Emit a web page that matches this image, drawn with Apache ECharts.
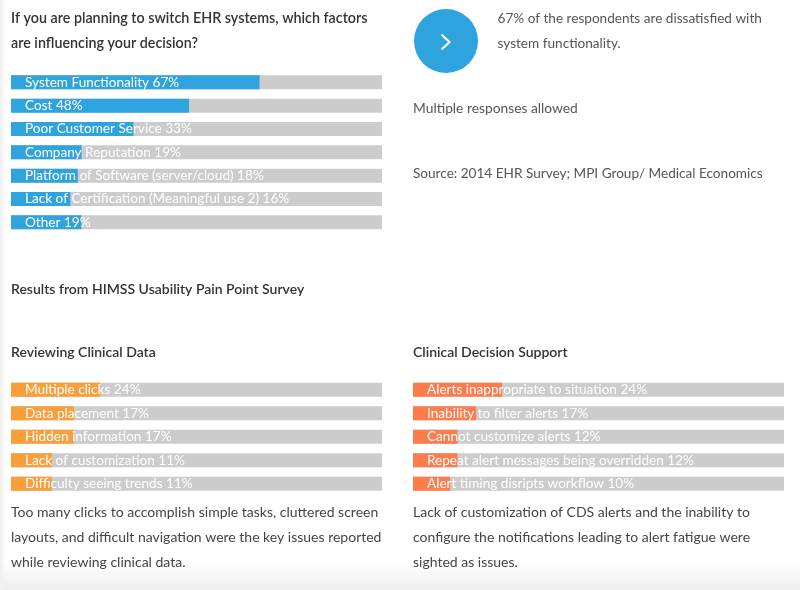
<!DOCTYPE html>
<html style="height: 100%">
<head>
    <meta charset="utf-8">
    <style>
        html, body { margin: 0; height: 100%; background: #fff; }
        #main { width: 800px; height: 590px; }
    </style>
</head>
<body>
<div id="main"></div>
<script src="https://cdn.jsdelivr.net/npm/echarts@6/dist/echarts.min.js"></script>
<script type="text/javascript">
// EHR switch factors
var factorNames = ['System Functionality', 'Cost', 'Poor Customer Service', 'Company Reputation',
    'Platform of Software (server/cloud)', 'Lack of Certification (Meaningful use 2)', 'Other'];
var factorValues = [67, 48, 33, 19, 18, 16, 19];
// HIMSS - reviewing clinical data
var reviewNames = ['Multiple clicks', 'Data placement', 'Hidden information', 'Lack of customization', 'Difficulty seeing trends'];
var reviewValues = [24, 17, 17, 11, 11];
// HIMSS - clinical decision support
var cdsNames = ['Alerts inappropriate to situation', 'Inability to filter alerts', 'Cannot customize alerts',
    'Repeat alert messages being overridden', 'Alert timing disripts workflow'];
var cdsValues = [24, 17, 12, 12, 10];

var FONT = 'Lato, "Open Sans", sans-serif';

function barSeries(idx, names, values, color) {
    return {
        type: 'bar',
        xAxisIndex: idx,
        yAxisIndex: idx,
        barWidth: 14,
        showBackground: true,
        backgroundStyle: { color: '#cccccc' },
        itemStyle: { color: color },
        label: {
            show: true,
            position: 'insideLeft',
            distance: 14,
            color: '#fff',
            fontFamily: FONT,
            fontSize: 13.6,
            formatter: function (p) { return names[p.dataIndex] + ' ' + p.value + '%'; }
        },
        silent: true,
        animation: false,
        data: values
    };
}

function txt(x, y, s, size, color, weight) {
    return {
        type: 'text', x: x, y: y, silent: true,
        style: { text: s, fill: color, font: (weight || 'normal') + ' ' + size + 'px ' + FONT, verticalAlign: 'middle' }
    };
}

var grids = [
    { left: 11, width: 371, top: 70.67, height: 163.33 },
    { left: 11, width: 371, top: 378, height: 117.5 },
    { left: 413, width: 371, top: 378, height: 117.5 }
];
var xAxes = [], yAxes = [];
var cats = [factorNames, reviewNames, cdsNames];
for (var i = 0; i < 3; i++) {
    xAxes.push({ type: 'value', gridIndex: i, min: 0, max: 100, show: false });
    yAxes.push({ type: 'category', gridIndex: i, inverse: true, show: false, data: cats[i] });
}

var myChart = echarts.init(document.getElementById('main'));
var option = {
    backgroundColor: '#fff',
    animation: false,
    grid: grids,
    xAxis: xAxes,
    yAxis: yAxes,
    series: [
        barSeries(0, factorNames, factorValues, '#2fa3de'),
        barSeries(1, reviewNames, reviewValues, '#fa9d3b'),
        barSeries(2, cdsNames, cdsValues, '#fe7b4c')
    ],
    graphic: [
        // soft page edges
        { type: 'rect', shape: { x: 0, y: 560, width: 800, height: 30 }, silent: true, z: -10,
          style: { fill: new echarts.graphic.LinearGradient(0, 0, 0, 1, [{ offset: 0, color: 'rgba(240,240,240,0)' }, { offset: 1, color: '#ededed' }]) } },
        { type: 'rect', shape: { x: 0, y: 0, width: 6, height: 590 }, silent: true, z: -10,
          style: { fill: new echarts.graphic.LinearGradient(0, 0, 1, 0, [{ offset: 0, color: '#f0f0f0' }, { offset: 1, color: 'rgba(240,240,240,0)' }]) } },
        txt(11, 18.5, 'If you are planning to switch EHR systems, which factors', 14.3, '#333', '600'),
        txt(11, 43.5, 'are influencing your decision?', 14.3, '#333', '600'),
        { type: 'circle', shape: { cx: 446, cy: 41, r: 32 }, silent: true, style: { fill: '#2fa3de' } },
        { type: 'polyline', shape: { points: [[441.5, 34.5], [449.5, 42], [441.5, 49.5]] }, silent: true,
          style: { stroke: '#fff', lineWidth: 2, fill: null } },
        txt(497.5, 19, '67% of the respondents are dissatisfied with', 13.6, '#555'),
        txt(497.5, 43.5, 'system functionality.', 13.6, '#555'),
        txt(413, 108.5, 'Multiple responses allowed', 13.8, '#555'),
        txt(413, 173.5, 'Source: 2014 EHR Survey; MPI Group/ Medical Economics', 13.6, '#555'),
        txt(11, 289, 'Results from HIMSS Usability Pain Point Survey', 14, '#333', '600'),
        txt(11, 352, 'Reviewing Clinical Data', 14, '#333', '600'),
        txt(413, 352, 'Clinical Decision Support', 14, '#333', '600'),
        txt(11, 512.5, 'Too many clicks to accomplish simple tasks, cluttered screen', 14, '#444'),
        txt(11, 537.5, 'layouts, and difficult navigation were the key issues reported', 14, '#444'),
        txt(11, 562.5, 'while reviewing clinical data.', 14, '#444'),
        txt(413, 512.5, 'Lack of customization of CDS alerts and the inability to', 14, '#444'),
        txt(413, 537.5, 'configure the notifications leading to alert fatigue were', 14, '#444'),
        txt(413, 562.5, 'sighted as issues.', 14, '#444')
    ]
};
myChart.setOption(option);
</script>
</body>
</html>
